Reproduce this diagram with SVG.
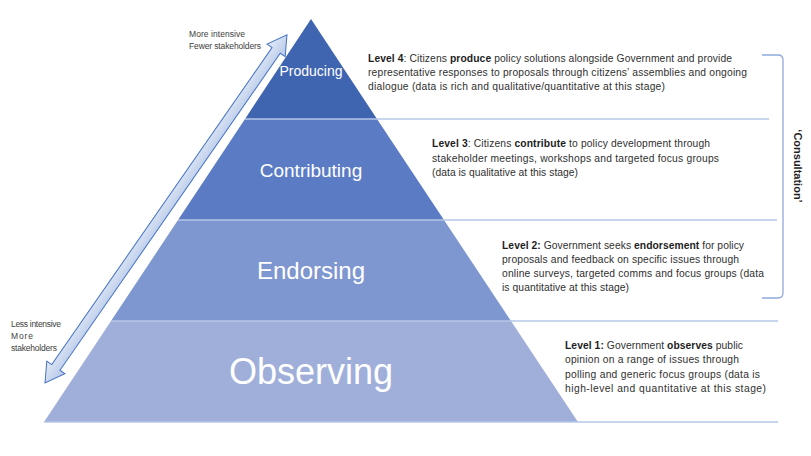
<svg xmlns="http://www.w3.org/2000/svg" width="811" height="456" viewBox="0 0 811 456">
<defs>
<style>
.tier{stroke:none}
.tl{font-family:"Liberation Sans",Arial,sans-serif;fill:#ffffff;text-anchor:middle}
.body{font-family:"Liberation Sans",Arial,sans-serif;font-size:10.3px;fill:#303030}
.b{font-weight:bold;fill:#1e1e1e}
.sep{stroke:#b4c7e7;stroke-width:1.5;fill:none}
.side{font-family:"Liberation Sans",Arial,sans-serif;font-size:8.5px;fill:#404040}
</style>
<linearGradient id="ag" x1="0" y1="0" x2="0" y2="1">
<stop offset="0" stop-color="#e3eaf7"/>
<stop offset="1" stop-color="#b4c7e7"/>
</linearGradient>
</defs>
<rect width="811" height="456" fill="#ffffff"/>
<g id="tier-producing">
<polygon class="tier" fill="#3f65b1" points="311,19 377,119 245,119"/>
<text class="tl" x="311" y="76" font-size="14">Producing</text>
</g>
<g id="tier-contributing">
<polygon class="tier" fill="#5b7cc5" points="245,119 377,119 444,220 178,220"/>
<text class="tl" x="311" y="177" font-size="19">Contributing</text>
</g>
<g id="tier-endorsing">
<polygon class="tier" fill="#7f97d0" points="178,220 444,220 511,321 111,321"/>
<text class="tl" x="311" y="279" font-size="24">Endorsing</text>
</g>
<g id="tier-observing">
<polygon class="tier" fill="#a0afd9" points="111,321 511,321 578,422 44,422"/>
<text class="tl" x="311" y="384" font-size="36">Observing</text>
</g>
<g id="connectors">
<line class="sep" x1="245" y1="119" x2="769" y2="119"/>
<line class="sep" x1="178" y1="220" x2="777" y2="220"/>
<line class="sep" x1="111" y1="321" x2="778" y2="321"/>
<line class="sep" x1="44" y1="422" x2="778" y2="422"/>
<path d="M762,55 L778,55 Q783,55 783,60 L783,293 Q783,298 778,298 L762,298" fill="none" stroke="#8faadc" stroke-width="1.3"/>
<polygon transform="translate(45,383) rotate(-55.2)" points="0,0 19,-11 19,-5 405,-5 405,-11 424,0 405,11 405,5 19,5 19,11" fill="url(#ag)" stroke="#4472c4" stroke-width="1"/>
</g>
<g id="arrow-labels">
<text class="side" x="189" y="37" textLength="56" lengthAdjust="spacing">More intensive</text>
<text class="side" x="189" y="49" textLength="72" lengthAdjust="spacing">Fewer stakeholders</text>
<text class="side" x="11" y="327" textLength="50" lengthAdjust="spacing">Less intensive</text>
<text class="side" x="11" y="339" textLength="22" lengthAdjust="spacing">More</text>
<text class="side" x="11" y="351" textLength="46" lengthAdjust="spacing">stakeholders</text>
</g>
<g id="level4">
<text class="body" x="368" y="62" textLength="364" lengthAdjust="spacing"><tspan class="b">Level 4</tspan>: Citizens <tspan class="b">produce</tspan> policy solutions alongside Government and provide</text>
<text class="body" x="368" y="76" textLength="379" lengthAdjust="spacing">representative responses to proposals through citizens’ assemblies and ongoing</text>
<text class="body" x="368" y="90" textLength="297" lengthAdjust="spacing">dialogue (data is rich and qualitative/quantitative at this stage)</text>
</g>
<g id="level3">
<text class="body" x="432" y="147" textLength="278" lengthAdjust="spacing"><tspan class="b">Level 3</tspan>: Citizens <tspan class="b">contribute</tspan> to policy development through</text>
<text class="body" x="432" y="162" textLength="287" lengthAdjust="spacing">stakeholder meetings, workshops and targeted focus groups</text>
<text class="body" x="432" y="176" textLength="146" lengthAdjust="spacing">(data is qualitative at this stage)</text>
</g>
<g id="level2">
<text class="body" x="502" y="249" textLength="242" lengthAdjust="spacing"><tspan class="b">Level 2:</tspan> Government seeks <tspan class="b">endorsement</tspan> for policy</text>
<text class="body" x="502" y="263" textLength="237" lengthAdjust="spacing">proposals and feedback on specific issues through</text>
<text class="body" x="502" y="277" textLength="262" lengthAdjust="spacing">online surveys, targeted comms and focus groups (data</text>
<text class="body" x="502" y="291" textLength="127" lengthAdjust="spacing">is quantitative at this stage)</text>
</g>
<g id="level1">
<text class="body" x="565" y="349" textLength="178" lengthAdjust="spacing"><tspan class="b">Level 1:</tspan> Government <tspan class="b">observes</tspan> public</text>
<text class="body" x="565" y="363" textLength="174" lengthAdjust="spacing">opinion on a range of issues through</text>
<text class="body" x="565" y="378" textLength="195" lengthAdjust="spacing">polling and generic focus groups (data is</text>
<text class="body" x="565" y="392" textLength="201" lengthAdjust="spacing">high-level and quantitative at this stage)</text>
</g>
<g id="consultation">
<text transform="translate(794,166) rotate(90)" text-anchor="middle" font-family="'Liberation Sans',Arial,sans-serif" font-size="11" font-weight="bold" fill="#1e1e1e">‘Consultation’</text>
</g>
</svg>
